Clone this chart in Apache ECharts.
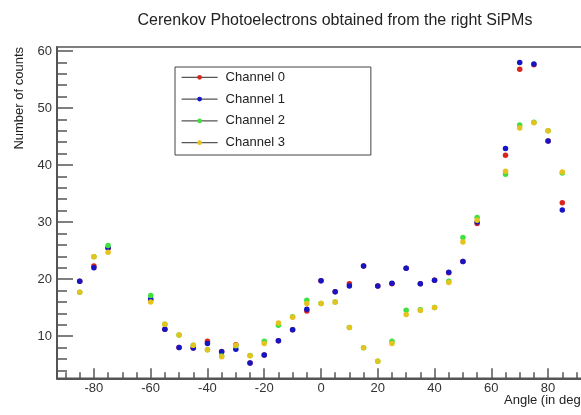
<!DOCTYPE html>
<html>
<head>
<meta charset="utf-8">
<script src="https://cdn.jsdelivr.net/npm/echarts@6/dist/echarts.min.js"></script>
<style>
  html, body { margin: 0; padding: 0; background: #fff; }
  #chart { width: 581px; height: 415px; }
</style>
</head>
<body>
<div id="chart"></div>
<script>
// angles (deg) where the scan was taken
const angles = [-85, -80, -75, -60, -55, -50, -45, -40, -35, -30, -25, -20, -15, -10, -5, 0,
  5, 10, 15, 20, 25, 30, 35, 40, 45, 50, 55, 65, 70, 75, 80, 85];

const channel0 = [19.6, 22.3, 25.4, 16.3, 11.2, 8.0, 7.9, 9.1, 7.3, 8.5, 5.3, 6.7, 9.2, 11.1, 14.4, 19.7,
  17.8, 19.2, 22.3, 18.8, 19.2, 21.9, 19.2, 19.8, 21.1, 23.1, 29.75, 41.7, 56.8, 57.6, 44.2, 33.4];
const channel1 = [19.6, 22.0, 25.5, 16.5, 11.2, 8.0, 7.9, 8.7, 7.25, 7.7, 5.3, 6.7, 9.2, 11.1, 14.7, 19.7,
  17.8, 18.8, 22.3, 18.8, 19.25, 21.9, 19.2, 19.8, 21.2, 23.1, 30.0, 42.9, 58.0, 57.7, 44.2, 32.1];
const channel2 = [17.7, 23.9, 25.9, 17.1, 12.1, 10.2, 8.4, 7.6, 6.5, 8.3, 6.6, 9.1, 11.9, 13.4, 16.3, 15.7,
  16.0, 11.5, 7.95, 5.6, 9.1, 14.55, 14.6, 15.0, 19.6, 27.3, 30.8, 38.4, 47.0, 47.5, 46.0, 38.6];
const channel3 = [17.7, 23.9, 24.7, 16.0, 12.1, 10.2, 8.4, 7.6, 6.4, 8.4, 6.55, 8.7, 12.3, 13.3, 15.7, 15.7,
  16.0, 11.5, 7.95, 5.6, 8.7, 13.8, 14.5, 15.0, 19.4, 26.5, 30.3, 38.9, 46.5, 47.4, 46.0, 38.8];

const channelNames = ['Channel 0', 'Channel 1', 'Channel 2', 'Channel 3'];
const channelColors = ['#d8261f', '#1515c4', '#3fe03f', '#e6c21e'];

// tick values
const xMajorTicks = [-80, -60, -40, -20, 0, 20, 40, 60, 80];
const xMinorTicks = [-90, -85, -75, -70, -65, -55, -50, -45, -35, -30, -25, -15, -10, -5,
  5, 10, 15, 25, 30, 35, 45, 50, 55, 65, 70, 75, 85, 90];
const yMajorTicks = [10, 20, 30, 40, 50, 60];
const yMinorTicks = [4, 6, 8, 12, 14, 16, 18, 22, 24, 26, 28, 32, 34, 36, 38, 42, 44, 46, 48, 52, 54, 56, 58];

const font = 'Liberation Sans, Arial, Helvetica, sans-serif';
const frameColor = '#555';

let myChart = echarts.init(document.getElementById('chart'));

const allChannels = [channel0, channel1, channel2, channel3];
const series = channelNames.map((name, i) => {
  return {
    name,
    type: 'line',
    xAxisIndex: 0,
    yAxisIndex: 0,
    symbol: 'circle',
    symbolSize: 5.5,
    showSymbol: true,
    showAllSymbol: true,
    lineStyle: { opacity: 0, width: 0 },
    itemStyle: { color: channelColors[i] },
    emphasis: { disabled: true },
    data: angles.map((a, k) => [a, allChannels[i][k]])
  };
});

let option = {
  animation: false,
  backgroundColor: '#fff',
  title: {
    text: 'Cerenkov Photoelectrons obtained from the right SiPMs',
    left: 330,
    top: 8,
    textAlign: 'center',
    textStyle: { fontFamily: font, fontSize: 16, fontWeight: 'normal', color: '#222' }
  },
  // x axis title, placed like ROOT does (right end of the frame, partly cut off)
  graphic: [
    {
      type: 'text',
      left: 504,
      top: 394,
      style: { text: 'Angle (in degrees)', font: '13px ' + font, fill: '#222' }
    }
  ],
  legend: {
    orient: 'vertical',
    left: 175,
    top: 67,
    padding: [3.3, 86, 5.3, 6],
    itemGap: 7.8,
    itemWidth: 36,
    itemHeight: 6,
    borderColor: '#444',
    borderWidth: 1,
    selectedMode: false,
    lineStyle: { color: '#555', width: 1.2, opacity: 1 },
    textStyle: { fontFamily: font, fontSize: 13, color: '#222', lineHeight: 14, padding: [0, 0, 0, 3] },
    data: channelNames
  },
  grid: {
    left: 57,
    width: 528,
    top: 47,
    height: 331.3,
    show: true,
    borderColor: frameColor,
    borderWidth: 1.5,
    containLabel: false,
    outerBoundsMode: 'none'
  },
  xAxis: [
    {
      type: 'value',
      position: 'bottom',
      min: -93,
      max: 93,
      axisLine: { show: true, onZero: false, lineStyle: { color: frameColor, width: 2 } },
      axisTick: { show: true, inside: true, length: 10, customValues: xMajorTicks, lineStyle: { color: frameColor, width: 1.5 } },
      axisLabel: { customValues: xMajorTicks, margin: 4, fontFamily: font, fontSize: 13, color: '#333' },
      splitLine: { show: false }
    },
    {
      type: 'value',
      position: 'bottom',
      min: -93,
      max: 93,
      axisLine: { show: false, onZero: false },
      axisTick: { show: true, inside: true, length: 6, customValues: xMinorTicks, lineStyle: { color: frameColor, width: 1.5 } },
      axisLabel: { show: false },
      splitLine: { show: false }
    }
  ],
  yAxis: [
    {
      type: 'value',
      position: 'left',
      min: 2.6,
      max: 60.7,
      name: 'Number of counts',
      nameLocation: 'end',
      nameRotate: 90,
      nameGap: 0,
      nameTextStyle: { fontFamily: font, fontSize: 13, color: '#222', align: 'right', verticalAlign: 'bottom', padding: [0, 0, 31, 0] },
      axisLine: { show: true, onZero: false, lineStyle: { color: frameColor, width: 2 } },
      axisTick: { show: true, inside: true, length: 16, customValues: yMajorTicks, lineStyle: { color: frameColor, width: 1.5 } },
      axisLabel: { customValues: yMajorTicks, margin: 5, fontFamily: font, fontSize: 13, color: '#333' },
      splitLine: { show: false }
    },
    {
      type: 'value',
      position: 'left',
      min: 2.6,
      max: 60.7,
      axisLine: { show: false, onZero: false },
      axisTick: { show: true, inside: true, length: 10, customValues: yMinorTicks, lineStyle: { color: frameColor, width: 1.5 } },
      axisLabel: { show: false },
      splitLine: { show: false }
    }
  ],
  series
};

myChart.setOption(option);
window.addEventListener('resize', () => myChart.resize(), false);
</script>
</body>
</html>
